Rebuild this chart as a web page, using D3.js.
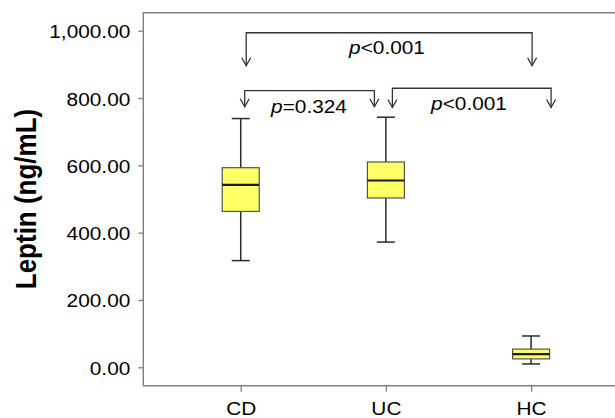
<!DOCTYPE html>
<html>
<head>
<meta charset="utf-8">
<script src="https://cdnjs.cloudflare.com/ajax/libs/d3/7.8.5/d3.min.js"></script>
<style>
  body { margin: 0; background: #fff; }
  svg text { font-family: "Liberation Sans", Arial, Helvetica, sans-serif; fill: #000; }
</style>
</head>
<body>
<div id="chart"></div>
<script>
// box plot summary (ng/mL)
var categories = ["CD", "UC", "HC"];
var whiskerLow = [317, 372, 10];
var q1 = [463, 503, 25];
var median = [542, 555, 39];
var q3 = [593, 610, 54];
var whiskerHigh = [739, 743, 93];

var yTicks = [0, 200, 400, 600, 800, 1000];

// pairwise comparisons: [from, to, label]
var comparisons = [
  ["CD", "HC", "<0.001"],
  ["CD", "UC", "=0.324"],
  ["UC", "HC", "<0.001"]
];

var width = 615, height = 418;
var plotLeft = 143.3, plotTop = 12.7, plotBottom = 385.7;
var stretch = 1.12; // the figure text is slightly wide
var fontSize = 18.6;

var svg = d3.select("#chart").append("svg")
    .attr("width", width)
    .attr("height", height);

var x = d3.scalePoint()
    .domain(categories)
    .range([plotLeft, 628.5])
    .padding(0.671);

var y = d3.scaleLinear()
    .domain([-54.7, 1053.5])
    .range([plotBottom, plotTop]);

// frame (no right edge in the figure)
svg.append("path")
    .attr("d", "M" + width + "," + plotTop + "H" + plotLeft + "V" + plotBottom + "H" + width)
    .attr("fill", "none")
    .attr("stroke", "#808080")
    .attr("stroke-width", 1.4);

// y axis
var yAxis = svg.append("g")
    .attr("transform", "translate(" + plotLeft + ",0)")
    .call(d3.axisLeft(y).tickValues(yTicks).tickFormat(d3.format(",.2f")).tickSize(5));
yAxis.attr("font-family", null);
yAxis.select(".domain").remove();
yAxis.selectAll(".tick line").attr("stroke", "#808080").attr("stroke-width", 1.3);
yAxis.selectAll(".tick text")
    .attr("x", -13 / stretch)
    .attr("dy", null)
    .attr("y", 7)
    .attr("transform", "scale(" + stretch + ",1)")
    .attr("fill", "#000")
    .style("font-size", fontSize + "px");

// x axis
var xAxis = svg.append("g")
    .attr("transform", "translate(0," + plotBottom + ")")
    .call(d3.axisBottom(x).tickSize(6).tickSizeOuter(0));
xAxis.attr("font-family", null);
xAxis.select(".domain").remove();
xAxis.selectAll(".tick line").attr("stroke", "#808080").attr("stroke-width", 1.3);
xAxis.selectAll(".tick text")
    .attr("y", 29.5)
    .attr("dy", null)
    .attr("transform", "scale(" + stretch + ",1)")
    .attr("fill", "#000")
    .style("font-size", fontSize + "px");

// y label
svg.append("text")
    .attr("transform", "translate(35.5,199) scale(" + stretch + ",1) rotate(-90)")
    .attr("text-anchor", "middle")
    .style("font-size", "26px")
    .style("font-weight", "bold")
    .text("Leptin (ng/mL)");

// boxes
var boxW = 37, capW = 18;
var boxes = svg.selectAll(".box")
    .data(categories)
    .enter().append("g")
    .attr("class", "box");

boxes.append("line")
    .attr("x1", d => x(d)).attr("x2", d => x(d))
    .attr("y1", (d, i) => y(whiskerHigh[i]))
    .attr("y2", (d, i) => y(whiskerLow[i]))
    .attr("stroke", "#2b2b2b").attr("stroke-width", 1.5);

[whiskerHigh, whiskerLow].forEach(function (arr) {
  boxes.append("line")
      .attr("x1", d => x(d) - capW / 2).attr("x2", d => x(d) + capW / 2)
      .attr("y1", (d, i) => y(arr[i])).attr("y2", (d, i) => y(arr[i]))
      .attr("stroke", "#2b2b2b").attr("stroke-width", 1.5);
});

boxes.append("rect")
    .attr("x", d => x(d) - boxW / 2)
    .attr("width", boxW)
    .attr("y", (d, i) => y(q3[i]))
    .attr("height", (d, i) => y(q1[i]) - y(q3[i]))
    .attr("fill", "#ffff66")
    .attr("stroke", "#55554a")
    .attr("stroke-width", 1.2);

boxes.append("line")
    .attr("x1", d => x(d) - boxW / 2).attr("x2", d => x(d) + boxW / 2)
    .attr("y1", (d, i) => y(median[i])).attr("y2", (d, i) => y(median[i]))
    .attr("stroke", "#1a1a1a").attr("stroke-width", 2.2);

// comparison brackets (layout per bracket: end offsets, line level, arrow tip, label spot)
var bracketLayout = [
  { dx1: 5.5, dx2: 1, level: 994, tip: 896, lx: 387, ly: 54.3 },
  { dx1: 4, dx2: -11.5, level: 822, tip: 774, lx: 309, ly: 113.3 },
  { dx1: 6.5, dx2: 20, level: 829, tip: 772, lx: 469, ly: 110 }
];

comparisons.forEach(function (c, i) {
  var L = bracketLayout[i];
  var xa = x(c[0]) + L.dx1, xb = x(c[1]) + L.dx2;
  var yl = y(L.level), yt = y(L.tip);
  var g = svg.append("g").attr("fill", "none").attr("stroke", "#333").attr("stroke-width", 1.3);
  g.append("path").attr("d", "M" + xa + "," + yt + "V" + yl + "H" + xb + "V" + yt);
  [xa, xb].forEach(function (xx) {
    g.append("path").attr("d", "M" + (xx - 4.5) + "," + (yt - 8) + "L" + xx + "," + yt + "L" + (xx + 4.5) + "," + (yt - 8));
  });
  var t = svg.append("text")
      .attr("transform", "translate(" + L.lx + "," + L.ly + ") scale(" + stretch + ",1)")
      .attr("text-anchor", "middle")
      .style("font-size", fontSize + "px");
  t.append("tspan").style("font-style", "italic").text("p");
  t.append("tspan").text(c[2]);
});
</script>
</body>
</html>
